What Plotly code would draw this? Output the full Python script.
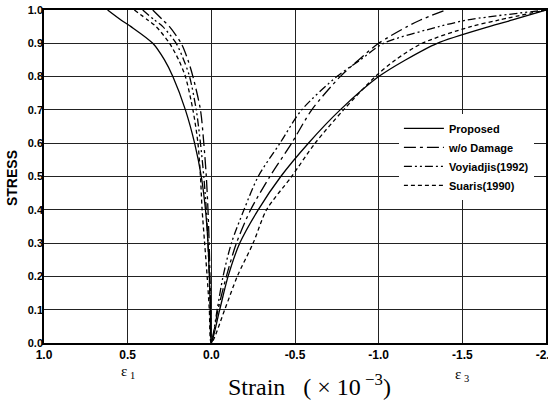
import plotly.graph_objects as go

# stress levels (shared)
stress_levels = [0.0, 0.1, 0.2, 0.3, 0.4, 0.5, 0.6, 0.7, 0.8, 0.85, 0.9, 0.95, 0.97, 1.0]

# lateral strain eps1 (x10^-3), positive side
prop_e1   = [0.0, 0.006, 0.012, 0.02, 0.035, 0.06, 0.10, 0.155, 0.23, 0.28, 0.35, 0.48, 0.54, 0.62]
wod_e1    = [0.0, 0.004, 0.008, 0.013, 0.02, 0.03, 0.045, 0.065, 0.11, 0.14, 0.18, 0.25, 0.29, 0.35]
voy_e1    = [0.0, 0.006, 0.012, 0.02, 0.03, 0.045, 0.065, 0.09, 0.13, 0.165, 0.21, 0.29, 0.34, 0.41]
suaris_e1 = [0.0, 0.012, 0.025, 0.04, 0.055, 0.065, 0.08, 0.11, 0.155, 0.195, 0.25, 0.33, 0.38, 0.46]

# axial strain eps3 (x10^-3), negative side
prop_e3   = [0.0, -0.05, -0.10, -0.17, -0.28, -0.415, -0.58, -0.77, -1.0, -1.16, -1.35, -1.66, -1.80, -2.0]
wod_e3    = [0.0, -0.04, -0.09, -0.15, -0.235, -0.35, -0.48, -0.60, -0.77, -0.88, -1.0, -1.17, -1.25, -1.40]
voy_e3    = [0.0, -0.035, -0.07, -0.12, -0.195, -0.28, -0.41, -0.54, -0.75, -0.89, -1.03, -1.36, -1.53, -2.0]
suaris_e3 = [0.0, -0.08, -0.155, -0.25, -0.33, -0.48, -0.62, -0.79, -0.98, -1.10, -1.26, -1.55, -1.72, -2.0]

names = ["Proposed", "w/o Damage", "Voyiadjis(1992)", "Suaris(1990)"]
dashes = ["solid", "12px,4px,3px,4px", "8px,3px,2px,3px,2px,3px", "4px,3px"]

x_ticks = [1.0, 0.5, 0.0, -0.5, -1.0, -1.5, -2.0]
x_tick_text = ["1.0", "0.5", "0.0", "-0.5", "-1.0", "-1.5", "-2.0"]
y_ticks = [0.0, 0.1, 0.2, 0.3, 0.4, 0.5, 0.6, 0.7, 0.8, 0.9, 1.0]

fig = go.Figure()
series = [(prop_e1, prop_e3), (wod_e1, wod_e3), (voy_e1, voy_e3), (suaris_e1, suaris_e3)]
for (e1, e3), nm, ds in zip(series, names, dashes):
    xs = list(reversed(e1)) + e3[1:]
    ys = list(reversed(stress_levels)) + stress_levels[1:]
    fig.add_trace(go.Scatter(x=xs, y=ys, mode="lines", name=nm,
                             line=dict(color="black", width=1.3, dash=ds, shape="spline", smoothing=0.8)))

fig.update_layout(
    width=548, height=400,
    margin=dict(l=44, r=2, t=10, b=57, autoexpand=False),
    paper_bgcolor="white", plot_bgcolor="white",
    showlegend=True,
    legend=dict(x=0.707, y=0.688, xanchor="left", yanchor="top",
                bgcolor="white", borderwidth=0,
                font=dict(family="Liberation Sans, Arial", size=11, color="black", weight="bold"),
                tracegroupgap=0, itemwidth=40),
    xaxis=dict(range=[1.0, -2.0], tickvals=x_ticks, ticktext=x_tick_text,
               showgrid=True, gridcolor="#222", gridwidth=1,
               showline=True, linecolor="black", linewidth=1.5, mirror=True,
               zeroline=False, ticks="", ticklabeloverflow="allow", automargin=False,
               tickfont=dict(family="Liberation Sans, Arial", size=12, color="black", weight="bold")),
    yaxis=dict(range=[0, 1.0], tickvals=y_ticks, tickformat=".1f",
               showgrid=True, gridcolor="#222", gridwidth=1,
               showline=True, linecolor="black", linewidth=1.5, mirror=True,
               zeroline=False, ticks="", ticklabeloverflow="allow", automargin=False,
               ticklabelstandoff=-3,
               tickfont=dict(family="Liberation Sans, Arial", size=11, color="black", weight="bold")),
)

NB = "\u00a0"
fig.add_annotation(text="<b>STRESS</b>", xref="paper", yref="paper", x=-0.064, y=0.495,
                   textangle=-90, showarrow=False, xanchor="center", yanchor="middle",
                   font=dict(family="Liberation Sans, Arial", size=14, color="black"))
fig.add_annotation(text="Strain" + NB * 3 + "(" + NB + "×" + NB + "10<sup>" + NB + "−3</sup>)",
                   xref="paper", yref="paper",
                   x=0.528, y=-0.126, yanchor="middle", showarrow=False,
                   font=dict(family="Liberation Serif, Times New Roman", size=24, color="black"))
fig.add_annotation(text="ε<sub>" + NB + "1</sub>", xref="x", yref="paper", x=0.5, y=-0.087,
                   yanchor="middle", showarrow=False,
                   font=dict(family="Liberation Serif, Times New Roman", size=15, color="black"))
fig.add_annotation(text="ε<sub>" + NB + "3</sub>", xref="x", yref="paper", x=-1.5, y=-0.096,
                   yanchor="middle", showarrow=False,
                   font=dict(family="Liberation Serif, Times New Roman", size=15, color="black"))

fig.write_html("out.html", post_script="document.body.style.margin='0';",
               config={"displayModeBar": False})
